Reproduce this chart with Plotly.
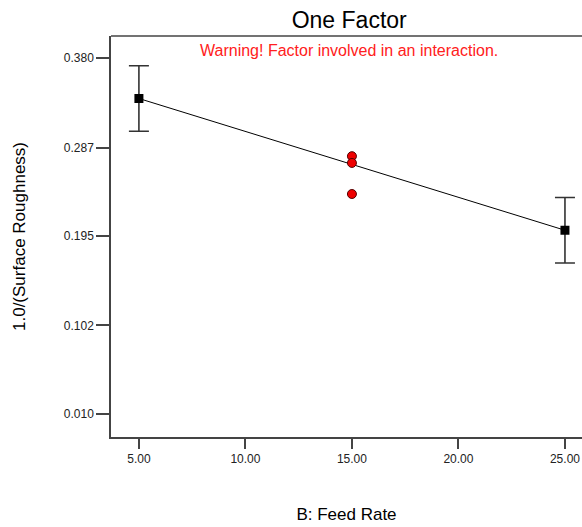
import plotly.graph_objects as go

# Data
factor_levels = [5.0, 25.0]
predicted = [0.338, 0.201]
ci_half = [0.034, 0.034]
design_x = [15.0, 15.0, 15.0]
design_y = [0.278, 0.271, 0.2387]
y_ticks = [0.010, 0.102, 0.195, 0.287, 0.380]
y_tick_labels = ["0.010", "0.102", "0.195", "0.287", "0.380"]
x_ticks = [5, 10, 15, 20, 25]
x_tick_labels = ["5.00", "10.00", "15.00", "20.00", "25.00"]

fig = go.Figure()
fig.add_trace(go.Scatter(
    x=factor_levels, y=predicted, mode="lines",
    line=dict(color="black", width=1), hoverinfo="skip"))
fig.add_trace(go.Scatter(
    x=factor_levels, y=predicted, mode="markers",
    marker=dict(symbol="square", size=9, color="black"),
    error_y=dict(type="data", array=ci_half, color="#333333", thickness=1.6, width=10)))
fig.add_trace(go.Scatter(
    x=design_x, y=design_y, mode="markers",
    marker=dict(symbol="circle", size=9, color="#ee0000", line=dict(color="#550000", width=1))))

fig.add_annotation(text="Warning! Factor involved in an interaction.",
                   xref="paper", yref="paper", x=0.505, y=0.99, yanchor="top",
                   showarrow=False, font=dict(color="#ff2020", size=16, family="Liberation Sans, Arial"))

# top frame line
fig.add_shape(type="line", xref="paper", yref="paper", x0=0, x1=1, y0=1, y1=1,
              line=dict(color="#444444", width=1.5))

axis_font = dict(family="Liberation Sans, Arial", size=12, color="#222222")
fig.update_layout(
    width=582, height=527,
    margin=dict(l=111, r=0, t=36, b=90),
    plot_bgcolor="white", paper_bgcolor="white",
    showlegend=False,
    title=dict(text="One Factor", x=0.6, xanchor="center", y=0.962, yanchor="middle",
               font=dict(family="Liberation Sans, Arial", size=23, color="black")),
    xaxis=dict(range=[3.69, 25.8], tickvals=x_ticks, ticktext=x_tick_labels,
               showline=True, linecolor="#444444", linewidth=1.5, mirror=False,
               ticks="outside", ticklen=10, tickcolor="#444444", tickwidth=1.5,
               showgrid=False, zeroline=False, tickfont=axis_font,
               title=dict(text="B: Feed Rate", standoff=43,
                          font=dict(family="Liberation Sans, Arial", size=17, color="black"))),
    yaxis=dict(range=[-0.014, 0.403], tickvals=y_ticks, ticktext=y_tick_labels,
               showline=True, linecolor="#444444", linewidth=1.5, mirror=False,
               ticks="outside", ticklen=13, tickcolor="#444444", tickwidth=1.5,
               showgrid=False, zeroline=False, tickfont=axis_font,
               title=dict(text="1.0/(Surface Roughness)", standoff=34,
                          font=dict(family="Liberation Sans, Arial", size=17, color="black"))),
)

fig.write_html("out.html")
